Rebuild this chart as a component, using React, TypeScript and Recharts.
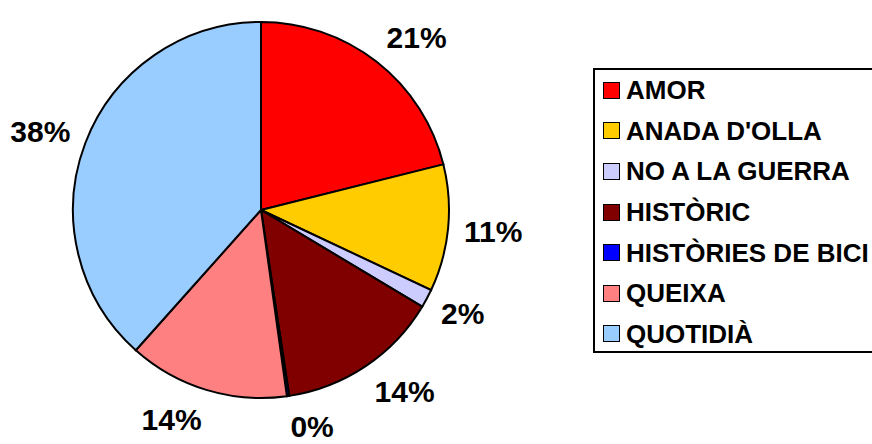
import React from "react";
import { PieChart, Pie, Cell, Legend } from "recharts";

const categories = ["AMOR", "ANADA D'OLLA", "NO A LA GUERRA", "HISTÒRIC", "HISTÒRIES DE BICI", "QUEIXA", "QUOTIDIÀ"];
const values = [21.1, 10.9, 1.6, 14.0, 0.2, 13.8, 38.4];
const colors = ["#FF0000", "#FFCC00", "#CCCCFF", "#800000", "#0000FF", "#FF8080", "#99CCFF"];

const data = categories.map((name, i) => ({ name, value: values[i] }));

const FONT = "'Liberation Sans', Arial, Helvetica, sans-serif";
const RAD = Math.PI / 180;

const renderLabel = (props: any) => {
  const { cx, cy, midAngle, percent } = props;
  const r = 204;
  const c = Math.cos(-midAngle * RAD);
  const s = Math.sin(-midAngle * RAD);
  const px = cx + r * c;
  const py = cy + r * s;
  const y = py + 15 * s;
  return (
    <text
      x={px}
      y={y}
      textAnchor={c >= 0 ? "start" : "end"}
      dominantBaseline="central"
      fontFamily={FONT}
      fontWeight="bold"
      fontSize={30}
      fill="#000"
    >
      {`${Math.round(percent * 100)}%`}
    </text>
  );
};

const renderLegend = (props: any) => {
  const payload = [...(props.payload || [])].sort(
    (a: any, b: any) => categories.indexOf(a.value) - categories.indexOf(b.value)
  );
  return (
    <div
      style={{
        border: "2px solid #000",
        width: 300,
        height: 285,
        boxSizing: "border-box",
        paddingTop: 0,
        paddingLeft: 8,
        background: "#fff",
      }}
    >
      {payload.map((entry: any, i: number) => (
        <div key={i} style={{ display: "flex", alignItems: "center", height: 40.6, whiteSpace: "nowrap" }}>
          <span
            style={{
              display: "inline-block",
              width: 15,
              height: 15,
              background: entry.color,
              border: "1.5px solid #000",
              marginRight: 6,
            }}
          />
          <span style={{ fontFamily: FONT, fontWeight: "bold", fontSize: 26, color: "#000", lineHeight: 1 }}>
            {entry.value}
          </span>
        </div>
      ))}
    </div>
  );
};

export default function App() {
  return (
    <div style={{ position: "absolute", left: 0, top: 0, width: 872, height: 444, overflow: "hidden", background: "#fff" }}>
      <PieChart width={872} height={444} margin={{ top: 0, right: 0, bottom: 0, left: 0 }}>
        <Pie
          data={data}
          dataKey="value"
          nameKey="name"
          cx={261}
          cy={210}
          outerRadius={188}
          startAngle={90}
          endAngle={-270}
          stroke="#000"
          strokeWidth={2}
          label={renderLabel}
          labelLine={false}
          isAnimationActive={false}
        >
          {data.map((d, i) => (
            <Cell key={d.name} fill={colors[i]} />
          ))}
        </Pie>
        <Legend
          layout="vertical"
          align="right"
          verticalAlign="top"
          content={renderLegend}
          wrapperStyle={{ left: 593, top: 68, width: 300 }}
        />
      </PieChart>
    </div>
  );
}
